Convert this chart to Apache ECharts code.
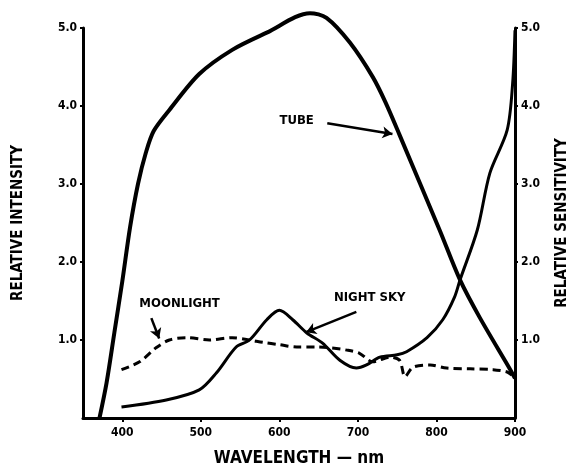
<!DOCTYPE html>
<html>
<head>
<meta charset="utf-8">
<script src="https://cdn.jsdelivr.net/npm/echarts@6/dist/echarts.min.js"></script>
<style>html,body{margin:0;padding:0;background:#fff}#c{width:578px;height:475px}</style>
</head>
<body>
<div id="c"></div>
<script>
// ---- data ----
const xTicks = [400, 500, 600, 700, 800, 900];
const yTicks = [1, 2, 3, 4, 5];

const tubeX = [371, 380, 390, 400, 410, 420, 430, 440, 460, 498, 540, 584, 639, 660, 690, 719, 735, 753, 804, 830, 855, 894, 900];
const tubeY = [0, 0.45, 1.1, 1.75, 2.45, 3.0, 3.4, 3.68, 3.95, 4.41, 4.72, 4.94, 5.19, 5.13, 4.81, 4.37, 4.05, 3.63, 2.41, 1.77, 1.29, 0.62, 0.51];

const skyX = [399, 456, 498, 520, 545, 562, 584, 600, 617, 635, 655, 677, 698, 711, 728, 750, 762, 788, 808, 823, 830, 852, 868, 890, 897, 900];
const skyY = [0.14, 0.23, 0.36, 0.58, 0.91, 1.0, 1.26, 1.38, 1.26, 1.09, 0.96, 0.74, 0.64, 0.68, 0.78, 0.81, 0.85, 1.03, 1.26, 1.55, 1.77, 2.41, 3.14, 3.69, 4.29, 4.97];

const moonX = [399, 422, 443, 460, 482, 511, 540, 562, 579, 600, 622, 647, 664, 686, 702, 719, 741, 753, 760, 770, 792, 813, 843, 872, 890, 896];
const moonY = [0.62, 0.72, 0.90, 1.0, 1.03, 1.0, 1.03, 1.0, 0.97, 0.94, 0.91, 0.91, 0.90, 0.87, 0.83, 0.72, 0.78, 0.74, 0.53, 0.65, 0.68, 0.64, 0.63, 0.62, 0.59, 0.55];

// annotations: [text, textX, textY, arrowFromX, arrowFromY, arrowToX, arrowToY]
const annTube = ['TUBE', 622, 3.81, 661, 3.78, 744, 3.64];
const annMoon = ['MOONLIGHT', 473, 1.46, 437, 1.28, 447, 1.02];
const annSky  = ['NIGHT SKY', 715, 1.54, 698, 1.36, 634, 1.10];

const pairs = (xs, ys) => xs.map((x, i) => [x, ys[i]]);
const FONT = '"DejaVu Sans Condensed", "Liberation Sans Narrow", sans-serif';
const anns = [annTube, annMoon, annSky];

const chart = echarts.init(document.getElementById('c'), null, {renderer: 'canvas'});
const axisCommon = {
  axisLine: {show: true, lineStyle: {color: '#000', width: 3}},
  splitLine: {show: false},
};
chart.setOption({
  animation: false,
  backgroundColor: '#fff',
  grid: {left: 83, right: 63, top: 28, bottom: 57},
  xAxis: {
    type: 'value', min: 350, max: 900,
    ...axisCommon,
    name: 'WAVELENGTH — nm', nameLocation: 'middle', nameGap: 32,
    nameTextStyle: {fontFamily: FONT, fontWeight: 'bold', fontSize: 17, color: '#000'},
    axisTick: {show: true, customValues: xTicks, length: 4, lineStyle: {color: '#000', width: 2}},
    axisLabel: {customValues: xTicks, fontFamily: FONT, fontWeight: 'bold', fontSize: 12, color: '#000', margin: 9}
  },
  yAxis: [
    {
      type: 'value', min: 0, max: 5, position: 'left',
      ...axisCommon,
      name: 'RELATIVE INTENSITY', nameLocation: 'middle', nameGap: 57, nameRotate: 90,
      nameTextStyle: {fontFamily: FONT, fontWeight: 'bold', fontSize: 15, color: '#000'},
      axisTick: {show: true, customValues: yTicks, length: 3, lineStyle: {color: '#000', width: 2}},
      axisLabel: {customValues: yTicks, formatter: v => v.toFixed(1), fontFamily: FONT, fontWeight: 'bold', fontSize: 12, color: '#000', margin: 6}
    },
    {
      type: 'value', min: 0, max: 5, position: 'right',
      ...axisCommon,
      name: 'RELATIVE SENSITIVITY', nameLocation: 'middle', nameGap: 40, nameRotate: 90,
      nameTextStyle: {fontFamily: FONT, fontWeight: 'bold', fontSize: 15, color: '#000'},
      axisTick: {show: true, customValues: yTicks, length: 3, lineStyle: {color: '#000', width: 2}},
      axisLabel: {customValues: yTicks, formatter: v => v.toFixed(1), fontFamily: FONT, fontWeight: 'bold', fontSize: 12, color: '#000', margin: 6}
    }
  ],
  series: [
    {
      name: 'Tube', type: 'line', yAxisIndex: 1, data: pairs(tubeX, tubeY),
      showSymbol: false, smooth: 0.3, clip: false,
      lineStyle: {color: '#000', width: 4}
    },
    {
      name: 'Night sky', type: 'line', data: pairs(skyX, skyY),
      showSymbol: false, smooth: 0.3, clip: false,
      lineStyle: {color: '#000', width: 3}
    },
    {
      name: 'Moonlight', type: 'line', data: pairs(moonX, moonY),
      showSymbol: false, smooth: 0.3, clip: false,
      lineStyle: {color: '#000', width: 3, type: [8, 5]},
      markLine: {
        silent: true, symbol: ['none', 'arrow'], symbolSize: [9, 10],
        lineStyle: {color: '#000', width: 2.5, type: 'solid'},
        label: {show: false},
        data: anns.map(a => [{coord: [a[3], a[4]]}, {coord: [a[5], a[6]]}])
      }
    },
    {
      name: 'labels', type: 'scatter', symbolSize: 0, silent: true,
      itemStyle: {color: '#000', opacity: 1},
      data: anns.map(a => ({value: [a[1], a[2]], name: a[0]})),
      label: {show: true, position: 'inside', formatter: p => p.name,
        fontFamily: FONT, fontWeight: 900, fontSize: 13, color: '#000', opacity: 1}
    }
  ]
});
</script>
</body>
</html>
